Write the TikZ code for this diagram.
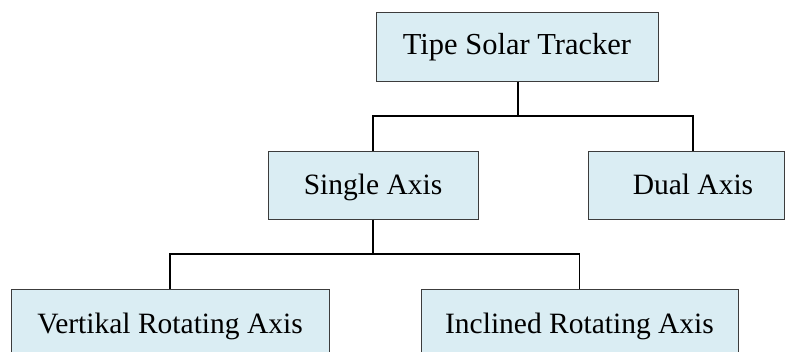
\documentclass[tikz,border=0pt]{standalone}
\usepackage{fontspec}
\setmainfont{Liberation Serif}
\definecolor{boxfill}{HTML}{DAEDF3}
\definecolor{boxline}{HTML}{3C3C3C}
\tikzset{
  treebox/.style={draw=boxline, fill=boxfill, line width=1pt, inner sep=0pt,
    text height=20pt, font=\fontsize{29.5}{34}\selectfont},
  link/.style={draw=black, line width=1.3pt}
}
\begin{document}
\begin{tikzpicture}[x=1pt, y=1pt]
  \useasboundingbox (0,0) rectangle (786,-351);
  \clip (0,0) rectangle (786,-351);

  % root
  \node[treebox, minimum width=282, minimum height=69, text height=20.5pt, text depth=5pt,
        font=\fontsize{30.5}{36}\selectfont] (root) at (517,-46.5) {Tipe Solar Tracker};

  % second level
  \node[treebox, minimum width=210, minimum height=68, text depth=2pt] (single) at (373,-185) {Single Axis};
  \node[treebox, minimum width=196, minimum height=68, text depth=2pt] (dual) at (686,-185) {\hspace{14pt}Dual Axis};

  % third level
  \node[treebox, minimum width=318, minimum height=68, text depth=0pt] (vert) at (170,-323) {Vertikal Rotating Axis};
  \node[treebox, minimum width=317, minimum height=68, text depth=0pt] (incl) at (579.5,-323) {Inclined Rotating Axis};

  % connectors
  \coordinate (busA) at (518,-116);
  \coordinate (dualtop) at ([xshift=7pt]dual.north);
  \draw[link] ([xshift=1pt]root.south) -- (busA);
  \draw[link] (single.north) |- (busA) -| (dualtop);

  \coordinate (busB) at (373,-254);
  \draw[link] (single.south) -- (busB);
  \draw[link] (vert.north) |- (busB) -| (incl.north);
\end{tikzpicture}
\end{document}
